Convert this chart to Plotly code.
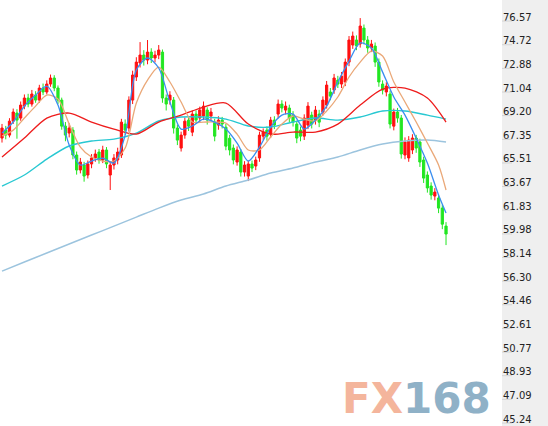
"""Candlestick chart with moving averages — FX168 style."""

import plotly.graph_objects as go

# ── data ─────────────────────────────────────────────────────
OPEN = [67.45, 68.07, 67.68, 68.77, 69.40, 69.01, 69.94, 70.57, 70.10, 70.80,
        70.41, 71.35, 71.04, 71.66, 72.13, 71.35, 70.41, 68.38, 67.84, 68.07,
        66.13, 64.96, 65.35, 64.57, 65.43, 65.90, 66.36, 65.74, 66.52, 64.57,
        65.35, 65.74, 66.13, 68.54, 68.23, 70.41, 72.21, 73.30, 73.92, 73.53,
        74.15, 73.69, 73.92, 74.15, 70.57, 70.41, 70.41, 68.23, 66.67, 67.68,
        68.85, 67.91, 69.32, 69.01, 69.16, 69.63, 69.16, 68.69, 68.46, 68.85,
        68.30, 67.44, 66.67, 65.58, 66.36, 64.80, 64.49, 65.43, 65.27, 65.90,
        67.60, 68.07, 67.76, 68.85, 69.32, 70.10, 69.63, 69.79, 69.24, 68.54,
        68.07, 67.60, 68.46, 69.24, 68.85, 69.32, 69.48, 70.02, 71.04, 71.19,
        71.97, 71.66, 71.82, 73.37, 74.70, 75.09, 74.78, 76.02, 75.09, 74.47,
        74.62, 73.37, 71.66, 71.04, 70.88, 68.38, 69.48, 69.01, 66.13, 65.90,
        66.52, 67.45, 67.14, 65.74, 64.57, 63.71, 62.93, 62.78, 61.99, 60.59]
CLOSE = [68.23, 67.68, 68.77, 69.48, 68.85, 70.02, 70.57, 70.10, 70.88, 70.41,
         71.35, 71.04, 71.66, 72.13, 71.35, 70.41, 68.38, 67.68, 68.23, 66.13,
         64.96, 65.58, 64.49, 65.43, 65.90, 66.21, 65.74, 66.52, 65.43, 65.35,
         65.90, 66.36, 68.69, 68.07, 70.41, 72.36, 73.37, 73.92, 73.53, 74.15,
         73.69, 73.92, 74.31, 70.57, 70.10, 70.80, 68.23, 67.29, 67.68, 68.77,
         68.38, 69.32, 68.85, 69.63, 69.94, 68.85, 69.48, 67.60, 68.85, 68.54,
         66.82, 66.52, 65.74, 66.52, 64.80, 65.35, 65.43, 65.11, 65.74, 67.68,
         67.91, 67.60, 68.85, 68.46, 70.10, 69.79, 69.94, 69.01, 68.69, 67.45,
         67.60, 69.01, 69.94, 68.54, 69.63, 68.69, 70.41, 71.58, 70.72, 72.13,
         71.66, 72.28, 73.37, 75.09, 75.40, 74.62, 76.18, 75.09, 74.47, 74.78,
         73.37, 71.82, 71.19, 71.50, 68.54, 69.48, 69.01, 66.21, 67.14, 67.29,
         67.45, 66.67, 65.58, 64.33, 63.56, 63.01, 63.24, 61.99, 60.74, 59.97]
HIGH = [68.55, 68.40, 69.00, 69.75, 69.70, 70.30, 70.85, 70.90, 71.20, 71.10,
        71.60, 71.70, 71.95, 72.40, 72.35, 71.55, 70.60, 68.70, 68.60, 68.30,
        66.40, 65.90, 65.60, 65.70, 66.20, 66.55, 66.60, 66.85, 66.75, 65.60,
        66.20, 66.70, 68.95, 68.90, 70.70, 72.70, 73.75, 74.93, 74.30, 75.09,
        74.45, 74.25, 74.70, 74.35, 70.85, 71.10, 70.65, 68.50, 67.95, 69.05,
        69.15, 69.60, 69.60, 69.90, 70.30, 69.85, 69.80, 68.95, 69.15, 69.10,
        68.55, 67.70, 66.95, 66.80, 66.60, 65.65, 65.70, 65.70, 66.00, 67.95,
        68.20, 68.35, 69.10, 69.15, 70.45, 70.40, 70.30, 70.05, 69.55, 68.80,
        68.35, 69.30, 70.25, 69.50, 69.95, 69.65, 70.70, 71.90, 71.35, 72.45,
        72.30, 72.60, 73.65, 75.40, 75.75, 75.45, 76.80, 76.30, 75.40, 75.10,
        74.90, 73.65, 71.95, 71.80, 71.15, 69.75, 69.80, 69.25, 67.50, 67.60,
        67.75, 67.70, 67.40, 66.00, 64.85, 64.00, 63.55, 63.05, 62.25, 60.90]
LOW = [67.10, 67.35, 67.50, 68.55, 67.40, 68.80, 69.70, 69.85, 69.90, 70.20,
       70.20, 70.80, 70.85, 71.45, 71.10, 70.10, 68.10, 67.20, 67.50, 65.80,
       64.60, 64.70, 64.05, 64.30, 65.10, 65.60, 65.45, 65.50, 65.10, 63.40,
       65.00, 65.40, 65.90, 67.70, 67.95, 70.10, 71.90, 72.95, 73.10, 73.20,
       73.30, 73.35, 73.60, 70.20, 69.60, 70.05, 67.80, 66.90, 66.40, 67.40,
       68.00, 67.60, 68.55, 68.70, 68.85, 68.50, 68.85, 67.20, 68.10, 68.20,
       66.50, 66.10, 65.40, 65.30, 64.45, 64.45, 64.10, 64.80, 64.95, 65.60,
       67.30, 67.25, 67.45, 68.15, 69.00, 69.45, 69.30, 68.70, 68.35, 67.05,
       67.20, 67.30, 68.15, 68.20, 68.50, 68.30, 69.20, 69.75, 70.40, 70.90,
       71.35, 71.35, 71.50, 73.05, 74.40, 74.30, 74.50, 74.75, 74.10, 74.15,
       73.00, 71.45, 70.85, 70.70, 68.20, 68.05, 68.65, 65.85, 65.80, 65.60,
       66.20, 66.30, 65.20, 63.95, 63.20, 62.65, 62.60, 61.60, 60.35, 59.11]

# moving averages, sampled at these candle positions
FAST_IDX = list(range(0, 118, 3)) + [119]
MA_BLUE = [67.84, 68.70, 69.94, 70.80, 71.50, 70.02, 66.91, 65.35, 65.66, 65.89,
           65.50, 67.68, 72.75, 73.69, 72.91, 70.26, 68.15, 68.39, 68.93, 68.70,
           68.15, 67.06, 65.66, 66.75, 68.31, 69.24, 69.32, 68.15, 68.85, 69.94,
           71.82, 73.45, 74.86, 74.47, 72.59, 70.65, 69.24, 67.45, 65.50, 63.01,
           61.61]
MA_TAN = [67.61, 68.07, 69.01, 69.94, 70.80, 70.49, 68.54, 66.75, 65.97, 65.66,
          65.66, 66.67, 70.18, 71.97, 72.98, 71.82, 70.26, 68.70, 68.70, 68.70,
          68.62, 67.76, 66.52, 66.52, 67.53, 68.54, 69.17, 68.93, 68.78, 69.56,
          70.65, 72.21, 73.37, 74.23, 73.84, 71.82, 70.26, 68.70, 67.06, 65.35,
          63.40]
SLOW_IDX = list(range(0, 115, 6)) + [119]
MA_RED = [65.97, 67.45, 69.01, 69.40, 68.70, 68.15, 67.76, 68.70, 69.24, 69.87,
          70.18, 68.54, 67.76, 67.92, 67.92, 68.54, 70.02, 71.27, 71.35, 70.57,
          68.70]
MA_CYAN = [63.71, 64.57, 65.81, 66.83, 67.22, 67.37, 67.84, 68.78, 69.09, 69.09,
           68.93, 68.39, 68.31, 68.70, 69.01, 68.85, 69.09, 69.56, 69.56, 69.24,
           68.93]
MA_LBLUE = [57.08, 57.79, 58.49, 59.19, 59.89, 60.59, 61.29, 61.99, 62.62, 63.09,
            63.71, 64.18, 64.72, 65.11, 65.58, 65.97, 66.52, 66.98, 67.22, 67.29,
            67.14]

TICKS = [76.57, 74.72, 72.88, 71.04, 69.20, 67.35, 65.51, 63.67, 61.83, 59.98,
         58.14, 56.30, 54.46, 52.61, 50.77, 48.93, 47.09, 45.24]

UP, DOWN = "#ff1010", "#22e622"

fig = go.Figure()
fig.add_trace(go.Candlestick(
    x=list(range(len(OPEN))), open=OPEN, high=HIGH, low=LOW, close=CLOSE,
    increasing=dict(line=dict(color=UP, width=1), fillcolor=UP),
    decreasing=dict(line=dict(color=DOWN, width=1), fillcolor=DOWN),
    whiskerwidth=0, showlegend=False,
))

for idx, vals, color, w in [
    (SLOW_IDX, MA_LBLUE, "#9cc4de", 1.5),
    (SLOW_IDX, MA_CYAN, "#28c8d2", 1.4),
    (SLOW_IDX, MA_RED, "#ee1c1c", 1.3),
    (FAST_IDX, MA_TAN, "#eaa878", 1.3),
    (FAST_IDX, MA_BLUE, "#3a8ef0", 1.3),
]:
    fig.add_trace(go.Scatter(
        x=idx, y=vals, mode="lines", showlegend=False,
        line=dict(color=color, width=w, shape="spline", smoothing=0.8),
    ))

# small tick dashes beneath the right-hand labels
for v in TICKS:
    fig.add_shape(type="line", xref="paper", yref="y", x0=1, x1=1.02, y0=v, y1=v,
                  line=dict(color="#d4d4d4", width=1))

fig.add_annotation(
    xref="paper", yref="paper", x=0.677, y=0.065, xanchor="left", yanchor="middle",
    text='<b><span style="color:#f4b59c">FX</span><span style="color:#8fb1c7">168</span></b>',
    showarrow=False, font=dict(family="DejaVu Sans", size=42),
)

fig.update_layout(
    width=548, height=426,
    margin=dict(l=0, r=46, t=0, b=0),
    paper_bgcolor="#efefef", plot_bgcolor="white",
    boxgap=0.15,
    xaxis=dict(visible=False, range=[-0.54, 134.0], rangeslider=dict(visible=False)),
    yaxis=dict(
        side="right", range=[45.01, 78.21], tickvals=TICKS,
        ticktext=[f"{v:.2f}" for v in TICKS], showgrid=False, zeroline=False,
        ticks="", ticklabelshift=-4, tickfont=dict(family="DejaVu Sans", size=10, color="#222"),
    ),
)

fig.write_html("out.html", config={"displayModeBar": False},
               post_script="document.body.style.margin='0';")
